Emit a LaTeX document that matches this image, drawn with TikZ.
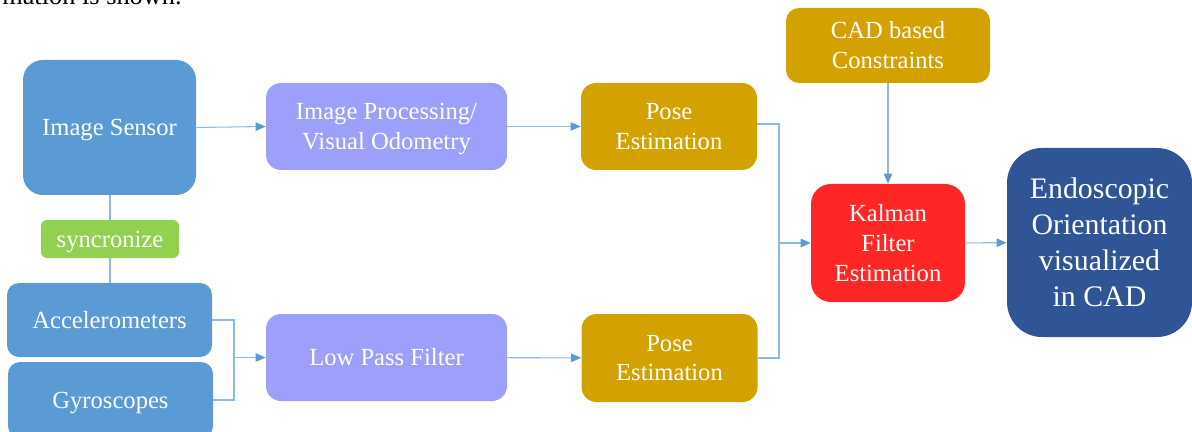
\documentclass[tikz,border=0pt]{standalone}
\usepackage{fontspec}
\setmainfont{Liberation Serif}
\usetikzlibrary{arrows.meta}
\definecolor{cSensor}{HTML}{5B9BD5}
\definecolor{cProc}{HTML}{9CA0FB}
\definecolor{cPose}{HTML}{D3A100}
\definecolor{cKal}{HTML}{FF2626}
\definecolor{cEndo}{HTML}{2F5597}
\definecolor{cSync}{HTML}{92D050}
\definecolor{cLine}{HTML}{8DBBE6}
\definecolor{cTip}{HTML}{5B9BD5}
\tikzset{
 bx/.style 2 args={minimum width=#1*0.02cm, minimum height=#2*0.02cm, inner sep=0pt, text=white, align=center, font=\fontsize{14}{17}\selectfont},
 nodepth/.style={text depth=0pt},
 link/.style={draw=cLine, line width=0.6pt},
 arr/.style={link, -{Triangle[length=0.2cm,width=0.17cm,color=cTip]}},
}
\begin{document}
\begin{tikzpicture}[x=0.02cm,y=-0.02cm]
\useasboundingbox (0,0) rectangle (1192,432);
\clip (0,0) rectangle (1192,432);
\node[anchor=base east, font=\fontsize{15}{18}\selectfont, inner sep=0pt] (cap) at (182,5) {mation is shown.};
\node[bx={173}{135}, fill=cSensor, rounded corners=0.4cm, nodepth] (sensor) at (109.5,127.5) {Image Sensor};
\node[bx={241}{87}, fill=cProc, rounded corners=0.3cm, nodepth] (proc) at (386.5,126.5) {Image Processing/\\Visual Odometry};
\node[bx={176}{87}, fill=cPose, rounded corners=0.3cm] (pose1) at (669,126.5) {Pose\\Estimation};
\node[bx={204}{75}, fill=cPose, rounded corners=0.26cm] (cad) at (888,45.5) {CAD based\\Constraints};
\node[bx={154}{118}, fill=cKal, rounded corners=0.4cm] (kal) at (888,243) {Kalman\\Filter\\Estimation};
\node[bx={185}{189}, fill=cEndo, rounded corners=0.7cm, font=\fontsize{17}{20.5}\selectfont] (endo) at (1099.5,242.5) {Endoscopic\\Orientation\\visualized\\in CAD};
\node[bx={138}{38}, fill=cSync, rounded corners=0.12cm, nodepth] (sync) at (110,239) {syncronize};
\node[bx={205}{74}, fill=cSensor, rounded corners=0.24cm] (acc) at (109.5,320) {Accelerometers};
\node[bx={205}{76}, fill=cSensor, rounded corners=0.24cm, nodepth] (gyro) at (110.5,400) {Gyroscopes};
\node[bx={241}{87}, fill=cProc, rounded corners=0.3cm] (lpf) at (386.5,357.5) {Low Pass Filter};
\node[bx={176}{88}, fill=cPose, rounded corners=0.3cm] (pose2) at (669.5,358) {Pose\\Estimation};
\coordinate (j1) at (779,243);
\coordinate (j2) at (234,357.5);
\draw[arr] (sensor.east) -- (proc.west);
\draw[arr] (proc) -- (pose1);
\draw[link] ([yshift=0.05cm]pose1.east) -| (j1) |- (pose2.east);
\draw[arr] (j1) -- (kal.west);
\draw[arr] (cad) -- (kal);
\draw[arr] (kal) -- (endo);
\draw[link] (sync.north |- sensor.south) -- (sync.north);
\draw[link] (sync.south) -- (sync.south |- acc.north);
\draw[link] (acc.east) -| (j2) |- (gyro.east);
\draw[arr] (j2) -- (lpf.west);
\draw[arr] (lpf) -- (pose2);
\end{tikzpicture}
\end{document}
